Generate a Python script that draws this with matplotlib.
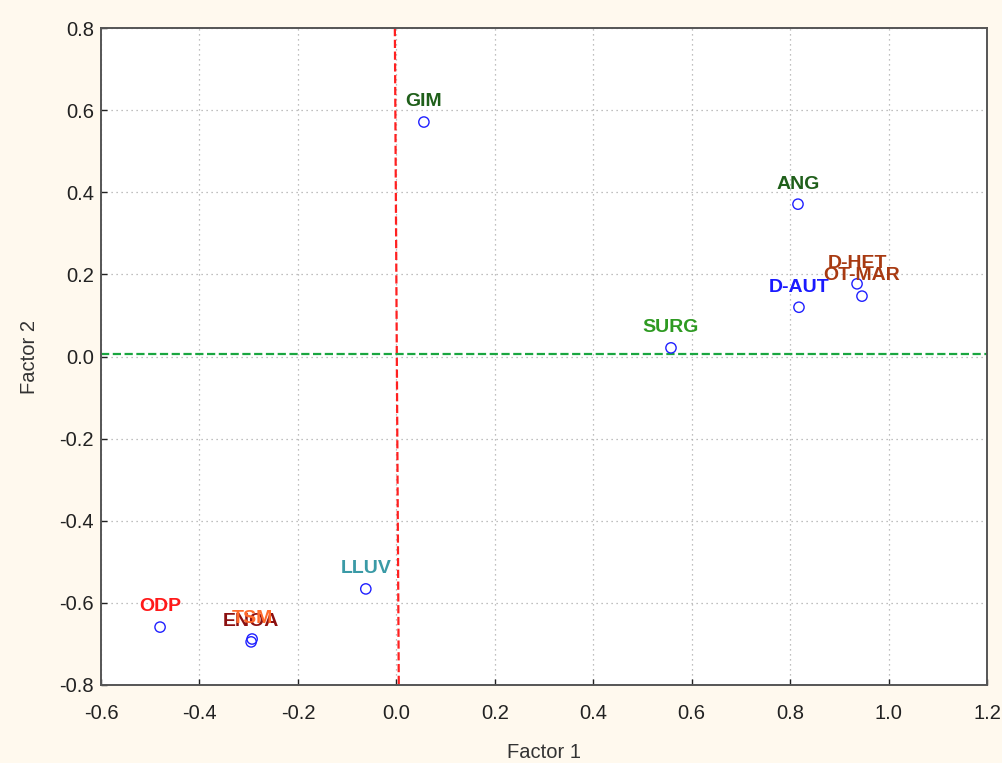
import matplotlib
matplotlib.use("Agg")
import matplotlib.pyplot as plt

# factor loadings
names = ["GIM", "ANG", "D-HET", "OT-MAR", "D-AUT", "SURG", "LLUV", "ODP", "ENOA", "TSM"]
factor1 = [0.056, 0.816, 0.936, 0.946, 0.818, 0.558, -0.062, -0.480, -0.295, -0.293]
factor2 = [0.571, 0.371, 0.177, 0.147, 0.120, 0.021, -0.566, -0.659, -0.695, -0.688]
label_colors = ["#1f5f1a", "#1f5f1a", "#a83a12", "#a83a12", "#1a1aff", "#2e9a22",
                "#3a9aa6", "#ff1a1a", "#8b1010", "#ff6a2a"]

# reference lines (slightly tilted vertical, horizontal at ~0)
vline_x = [-0.003, 0.005]
vline_y = [0.8, -0.8]
hline_y = 0.005

plt.rcParams["font.family"] = ["Liberation Sans", "DejaVu Sans"]
bg = "#fff9ee"

fig = plt.figure(figsize=(10.03, 7.63), dpi=100, facecolor=bg)
ax = fig.add_axes([101 / 1003, 1 - 685 / 763, (987 - 101) / 1003, (685 - 28) / 763])
ax.set_facecolor("white")

ax.plot(vline_x, vline_y, color="#ff2020", ls="--", lw=1.6, zorder=2)
ax.axhline(hline_y, color="#1aa640", ls="--", lw=1.6, zorder=2)

ax.scatter(factor1, factor2, s=55, facecolors="none", edgecolors="#2020ff", linewidths=1.0, zorder=3)
for n, x, y, c in zip(names, factor1, factor2, label_colors):
    ax.annotate(n, (x, y), xytext=(0, 14.5), textcoords="offset points", ha="center", va="center",
                color=c, fontsize=14, fontweight="bold", zorder=4)

ax.set_xlim(-0.6, 1.2)
ax.set_ylim(-0.8, 0.8)
ax.set_xticks([-0.6 + 0.2 * i for i in range(10)])
ax.set_yticks([-0.8 + 0.2 * i for i in range(9)])
ax.xaxis.set_major_formatter(matplotlib.ticker.FormatStrFormatter("%.1f"))
ax.yaxis.set_major_formatter(matplotlib.ticker.FormatStrFormatter("%.1f"))
ax.tick_params(direction="in", length=4, width=1, labelsize=14.5, colors="#222222")
ax.tick_params(axis="x", pad=14)
ax.tick_params(axis="y", pad=5)
ax.grid(True, ls=(0, (1, 3)), color="#aaaaaa", lw=0.9)
for s in ax.spines.values():
    s.set_color("#555555")
    s.set_linewidth(1.4)

ax.set_xlabel("Factor 1", fontsize=14.5, color="#333333", labelpad=14)
ax.set_ylabel("Factor 2", fontsize=14.5, color="#333333", labelpad=15)

fig.savefig("out.png", dpi=100, facecolor=bg)
